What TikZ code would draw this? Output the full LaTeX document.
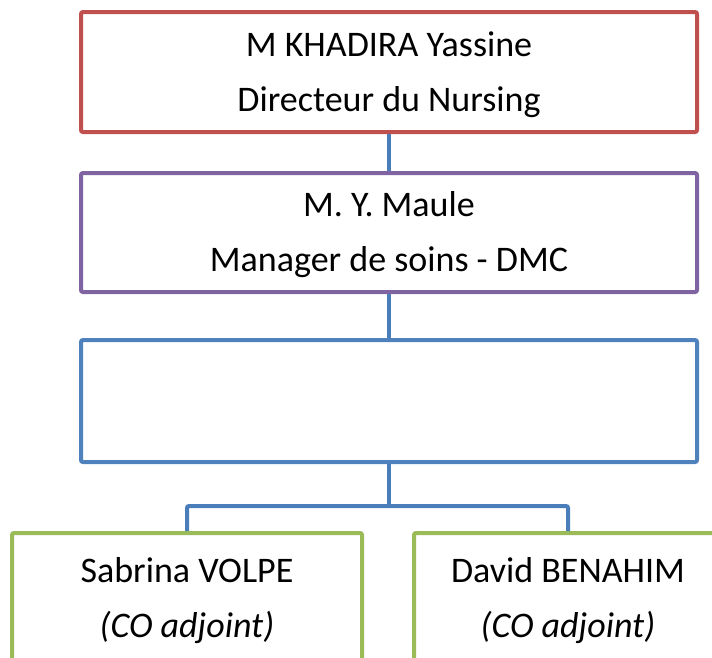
\documentclass[tikz,border=0pt]{standalone}
\usepackage{fontspec}
\setmainfont{Carlito}
\usetikzlibrary{positioning}

\begin{document}
\begin{tikzpicture}[
        x=1pt, y=-1pt,
        box/.style={rectangle, rounded corners=2pt, line width=4pt, fill=white, align=center, inner sep=0pt, text height=88pt, text depth=10pt, font=\fontsize{36}{55}\selectfont},
        topbox/.style={box, draw=redbox, minimum width=616pt, minimum height=120pt},
        midbox/.style={box, draw=purplebox, minimum width=616pt, minimum height=119pt},
        emptybox/.style={box, draw=bluebox, minimum width=616pt, minimum height=122pt},
        leafbox/.style={box, draw=greenbox, minimum height=128pt, text height=90pt},
        link/.style={line width=4pt, draw=linkblue}
    ]
        \definecolor{redbox}{HTML}{C0504D}
        \definecolor{purplebox}{HTML}{8064A2}
        \definecolor{bluebox}{HTML}{4F81BD}
        \definecolor{greenbox}{HTML}{9BBB59}
        \definecolor{linkblue}{HTML}{4A7EBB}
        \useasboundingbox (0,0) rectangle (712,657);
        \clip (0,0) rectangle (712,657);
        \node[topbox] (dir) at (389,72) {M KHADIRA Yassine\\Directeur du Nursing};
        \node[midbox] (mgr) at (389,232.5) {M. Y. Maule\\Manager de soins - DMC};
        \node[emptybox] (blank) at (389,401) {};
        \coordinate (fork) at (389,506);
        \node[leafbox, minimum width=350pt] (volpe) at (187,597) {Sabrina VOLPE\\\textit{(CO adjoint)}};
        \node[leafbox, minimum width=308pt] (benahim) at (568,597) {David BENAHIM\\\textit{(CO adjoint)}};
        \draw[link] (dir) -- (mgr);
        \draw[link] (mgr) -- (blank);
        \draw[link] (blank) -- (fork);
        \draw[link, rounded corners=2pt] (volpe.north) |- (fork) -| (benahim.north);
\end{tikzpicture}
\end{document}
